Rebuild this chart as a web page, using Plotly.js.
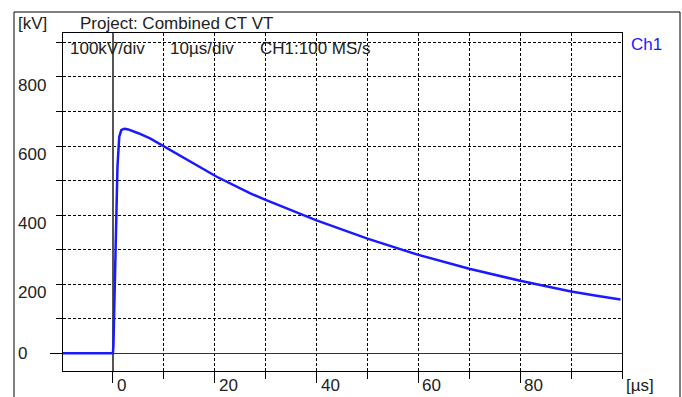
<!DOCTYPE html>
<html>
<head>
<meta charset="utf-8">
<script src="https://cdn.plot.ly/plotly-3.0.1.min.js"></script>
<style>html,body{margin:0;padding:0;background:#fff;}#chart{width:682px;height:397px;}</style>
</head>
<body>
<div id="chart"></div>
<script>
// Data
const timeUs = [-10, 0, 0.1, 0.3, 0.5, 0.8, 0.9, 1.25, 1.65, 2.0, 2.3, 3, 5, 7.3, 9.9, 15, 20.4, 27, 30, 40, 50, 60, 70, 80, 88, 90, 95, 99.7];
const voltageKV = [0, 0, 20, 150, 300, 450, 540, 627, 646, 649, 650, 648, 637, 622, 600, 556, 511, 463, 444, 385, 332, 285, 245, 210, 185, 179, 167, 156];

const xTickVals = [0, 20, 40, 60, 80];
const xTickText = ['0', '20', '40', '60', '80'];
const yTickVals = [800, 600, 400, 200, 0];
const yTickText = ['800', '600', '400', '200', '0'];

const L = 63, T = 33, W = 559, H = 338;
const px = p => (p - L) / W;
const py = p => 1 - (p - T) / H;
const FONT = 'Liberation Sans, Arial, sans-serif';
const txt = '#222';

const annotations = [];
function addText(text, x, y, opts) {
  annotations.push(Object.assign({
    text: text, xref: 'paper', yref: 'paper', x: px(x), y: py(y),
    xanchor: 'left', yanchor: 'middle', showarrow: false, borderpad: 0,
    font: {family: FONT, size: 17, color: txt}
  }, opts || {}));
}
addText('[kV]', 17, 24);
addText('Project: Combined CT VT', 79, 23);
addText('100kV/div', 69, 48);
addText('10µs/div', 169, 48);
addText('CH1:100 MS/s', 259, 48);
addText('Ch1', 630, 45, {font: {family: FONT, size: 17, color: '#1a1aff'}});
addText('[µs]', 625, 385);

xTickVals.forEach((v, i) => {
  annotations.push({
    text: xTickText[i], xref: 'x', yref: 'paper', x: v, y: py(386),
    xanchor: 'left', yanchor: 'middle', xshift: 3, showarrow: false, borderpad: 0,
    font: {family: FONT, size: 17, color: txt}
  });
});
yTickVals.forEach((v, i) => {
  annotations.push({
    text: yTickText[i], xref: 'paper', yref: 'y', x: px(17), y: v,
    xanchor: 'left', yanchor: v === 0 ? 'middle' : 'top', yshift: v === 0 ? 0 : 2,
    showarrow: false, borderpad: 0,
    font: {family: FONT, size: 17, color: txt}
  });
});

const trace = {
  x: timeUs, y: voltageKV, type: 'scatter', mode: 'lines',
  line: {color: '#1a1aff', width: 2.5}, hoverinfo: 'skip'
};

const layout = {
  width: 682, height: 397,
  margin: {l: L, r: 682 - L - W, t: T, b: 397 - T - H, pad: 0},
  paper_bgcolor: '#fff', plot_bgcolor: '#fff',
  showlegend: false,
  xaxis: {
    range: [-9.8, 100], showline: true, mirror: true, linecolor: '#000', linewidth: 1,
    tickmode: 'array', tickvals: xTickVals, showticklabels: false,
    ticks: 'outside', ticklen: 11, tickcolor: '#000', tickwidth: 1,
    showgrid: true, gridcolor: '#000', gridwidth: 1, griddash: '3px,2px',
    zeroline: true, zerolinecolor: '#555', zerolinewidth: 2,
    minor: {dtick: 10, tick0: 0, ticks: 'outside', ticklen: 7, tickcolor: '#000', tickwidth: 1,
            showgrid: true, gridcolor: '#000', gridwidth: 1, griddash: '3px,2px'},
    fixedrange: true
  },
  yaxis: {
    range: [-51, 927], showline: true, mirror: true, linecolor: '#000', linewidth: 1,
    tickmode: 'array', tickvals: [0], showticklabels: false,
    ticks: 'outside', ticklen: 12, tickcolor: '#000', tickwidth: 1,
    showgrid: false,
    zeroline: true, zerolinecolor: '#333', zerolinewidth: 1,
    minor: {dtick: 100, tick0: 0, ticks: 'outside', ticklen: 6, tickcolor: '#000', tickwidth: 1,
            showgrid: true, gridcolor: '#000', gridwidth: 1, griddash: '3px,2px'},
    fixedrange: true
  },
  shapes: [{
    type: 'rect', xref: 'paper', yref: 'paper',
    x0: px(14), x1: px(680), y0: py(410), y1: py(12),
    line: {color: '#000', width: 1}, layer: 'below'
  }],
  annotations: annotations
};

Plotly.newPlot('chart', [trace], layout, {displayModeBar: false, staticPlot: true});
</script>
</body>
</html>
